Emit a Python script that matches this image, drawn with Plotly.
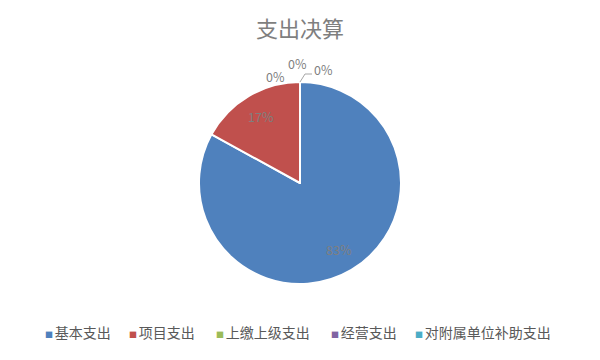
import math
import plotly.graph_objects as go

labels = ["基本支出", "项目支出", "上缴上级支出", "经营支出", "对附属单位补助支出"]
values = [83, 17, 0, 0, 0]
colors = ["#4F81BD", "#C0504D", "#9BBB59", "#8064A2", "#4BACC6"]
title_text = "支出决算"

W, H = 600, 360
cx, cy, r = 300, 183, 101  # pie centre / radius in pixels (layout)

fig = go.Figure(go.Pie(
    labels=labels,
    values=values,
    sort=False,
    direction="clockwise",
    rotation=0,
    marker=dict(colors=colors, line=dict(color="white", width=2)),
    textinfo="none",
    hoverinfo="label+percent",
    domain=dict(x=[0, 1], y=[1 - (cy + r) / H, 1 - (cy - r) / H]),
    showlegend=False,
))

total = sum(values)
annotations = []
# data labels for non-zero slices: placed at 0.765 r along the slice bisector
cum = 0
zero_pos = [(275, 76), (297, 63), (323, 69)]
zi = 0
for lab, v in zip(labels, values):
    pct = f"{round(v / total * 100)}%"
    if v > 0:
        mid = (cum + v / 2) / total * 2 * math.pi
        px = cx + 0.765 * r * math.sin(mid)
        py = cy - 0.765 * r * math.cos(mid)
    else:
        px, py = zero_pos[zi]
        zi += 1
    annotations.append(dict(x=px / W, y=1 - py / H, xref="paper", yref="paper",
                            text=pct, showarrow=False, xanchor="center", yanchor="middle",
                            font=dict(size=12.5, color="#7F7F7F", family="Noto Sans CJK SC")))
    cum += v

# custom legend row
leg_x = [43, 127, 214, 329, 413]
for lab, c, lx in zip(labels, colors, leg_x):
    annotations.append(dict(
        x=lx / W, y=1 - 332 / H, xref="paper", yref="paper", xanchor="left", yanchor="middle",
        showarrow=False,
        text=f"<span style='color:{c};font-size:8px'>■ </span>{lab}",
        font=dict(size=14, color="#595959", family="Noto Sans CJK SC"),
    ))

fig.update_layout(
    width=W, height=H,
    margin=dict(l=0, r=0, t=0, b=0),
    paper_bgcolor="white",
    font=dict(family="Noto Sans CJK SC", color="#595959"),
    title=dict(text=title_text, x=0.5, xanchor="center", y=1 - 29 / H, yanchor="middle",
               font=dict(size=22, color="#7F7F7F", family="Noto Sans CJK SC")),
    annotations=annotations,
    shapes=[dict(type="path", xref="paper", yref="paper",
                 path=f"M {300/W},{1-82/H} L {305/W},{1-74/H} L {312/W},{1-74/H}",
                 line=dict(color="#A6A6A6", width=1))],
)

fig.write_html("out.html")
